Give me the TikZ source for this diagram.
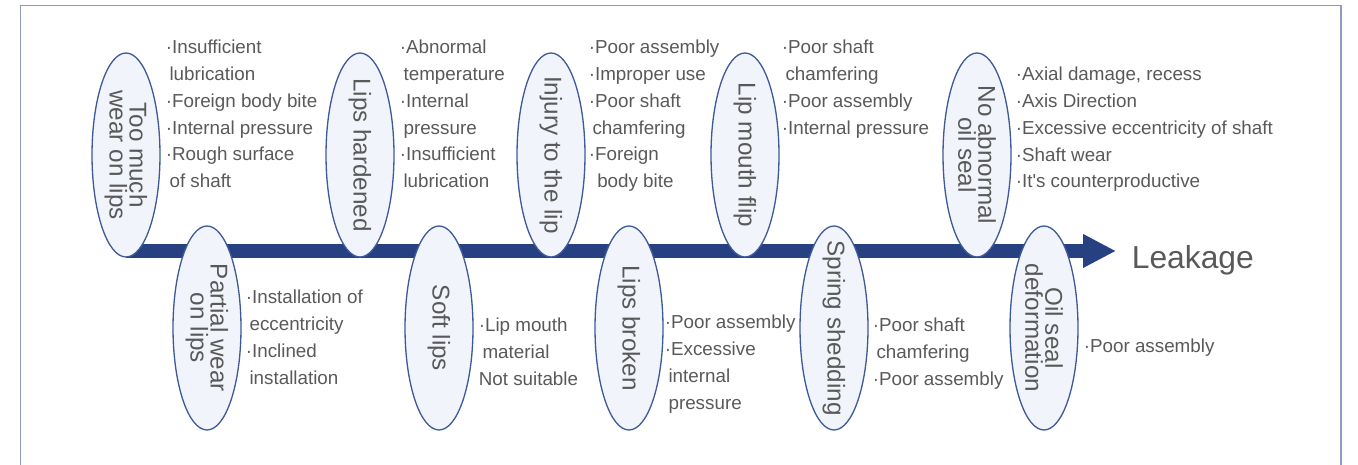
\documentclass[tikz,border=0pt]{standalone}
\usepackage{fontspec}
\setmainfont{Liberation Sans}
\usetikzlibrary{shapes.geometric,arrows.meta}

\definecolor{navy}{HTML}{274081}
\definecolor{sealedge}{HTML}{3E5A9A}
\definecolor{sealfill}{HTML}{F1F4FA}
\definecolor{txtgrey}{HTML}{595959}
\definecolor{framecol}{HTML}{8D9AC6}
\newcommand\ind{\hspace{.2em}}

\begin{document}
\begin{tikzpicture}[x=1cm,y=1cm,line width=.35pt,
  seal/.style={ellipse,draw=sealedge,fill=sealfill,line width=.75pt,minimum width=1.36cm,minimum height=4.08cm,inner sep=0pt},
  sealtext/.style={rotate=-90,align=center,text=txtgrey,inner sep=0pt,font=\fontsize{13.8}{11.4}\selectfont},
  cause/.style={anchor=north west,align=left,text=txtgrey,inner sep=0pt,font=\fontsize{10.7}{15.2}\selectfont}]
\useasboundingbox (0,0) rectangle (27.16,9.3);
\draw[framecol,line width=1.1pt] (.41,-.2)--(.41,9.19)--(26.82,9.19)--(26.82,-.2);
% main arrow
\coordinate (tail) at (2.52,4.28);
\coordinate (tip) at (22.32,4.28);
\draw[navy,line width=.27cm,-{Triangle[width=.63cm,length=.66cm]}] (tail)--(tip);
\node[anchor=base west,inner sep=0pt,text=txtgrey,font=\fontsize{18.1}{21}\selectfont] (leak) at (22.63,3.92) {Leakage};
% seals above the arrow
\node[seal] (wear) at (2.52,6.2) {};
\node[seal] (hard) at (7.2,6.2) {};
\node[seal] (injury) at (11.02,6.2) {};
\node[seal] (flip) at (14.9,6.2) {};
\node[seal] (noab) at (19.54,6.2) {};
% seals below the arrow
\node[seal] (partial) at (4.14,2.74) {};
\node[seal] (soft) at (8.78,2.74) {};
\node[seal] (broken) at (12.58,2.74) {};
\node[seal] (spring) at (16.68,2.74) {};
\node[seal] (deform) at (20.88,2.74) {};
% seal labels
\node[sealtext] (wearT) at (wear) {Too much\\wear on lips};
\node[sealtext] (hardT) at (hard) {Lips hardened};
\node[sealtext] (injuryT) at (injury) {Injury to the lip};
\node[sealtext] (flipT) at (flip) {Lip mouth flip};
\node[sealtext] (noabT) at (noab) {No abnormal\\oil seal};
\node[sealtext] (partialT) at (partial) {Partial wear\\on lips};
\node[sealtext] (softT) at (soft) {Soft lips};
\node[sealtext] (brokenT) at (broken) {Lips broken};
\node[sealtext] (springT) at (spring) {Spring shedding};
\node[sealtext] (deformT) at (deform) {Oil seal\\deformation};
% causes
\node[cause] (wearC) at (3.31,8.5) {·Insufficient\\\ind lubrication\\·Foreign body bite\\·Internal pressure\\·Rough surface\\\ind of shaft};
\node[cause] (hardC) at (7.99,8.5) {·Abnormal\\\ind temperature\\·Internal\\\ind pressure\\·Insufficient\\\ind lubrication};
\node[cause] (injuryC) at (11.77,8.5) {·Poor assembly\\·Improper use\\·Poor shaft\\\ind chamfering\\·Foreign\\\hspace{.45em}body bite};
\node[cause] (flipC) at (15.63,8.5) {·Poor shaft\\\ind chamfering\\·Poor assembly\\·Internal pressure};
\node[cause] (noabC) at (20.31,7.96) {·Axial damage, recess\\·Axis Direction\\·Excessive eccentricity of shaft\\·Shaft wear\\·It\textquotesingle s counterproductive};
\node[cause] (partialC) at (4.91,3.5) {·Installation of\\\ind eccentricity\\·Inclined\\\ind installation};
\node[cause] (softC) at (9.57,2.94) {·Lip mouth\\\ind material\\Not suitable};
\node[cause] (brokenC) at (13.29,3.0) {·Poor assembly\\·Excessive\\\ind internal\\\ind pressure};
\node[cause] (springC) at (17.45,2.94) {·Poor shaft\\\ind chamfering\\·Poor assembly};
\node[cause] (deformC) at (21.67,2.52) {·Poor assembly};
\end{tikzpicture}
\end{document}
